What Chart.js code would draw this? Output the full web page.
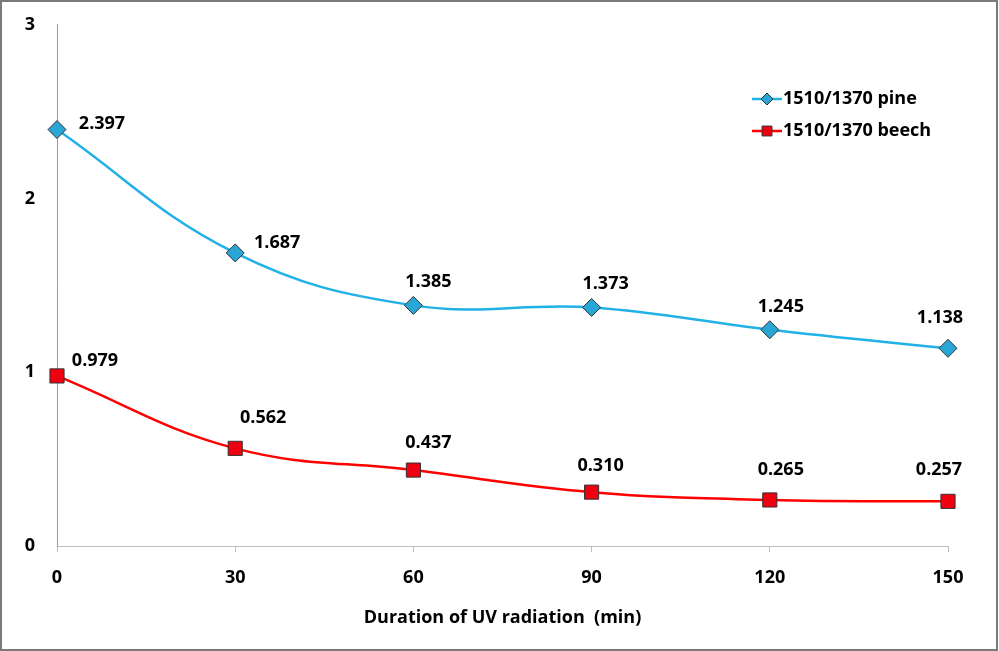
<!DOCTYPE html>
<html lang="en">
<head>
    <meta charset="UTF-8">
    <title>1510/1370 ratio vs UV radiation</title>
    <script src="https://cdn.jsdelivr.net/npm/chart.js"></script>
    <style>
        html, body { margin: 0; padding: 0; background: #fff; }
        .chart-box { position: relative; width: 999px; height: 651px; }
    </style>
</head>
<body>
    <div class="chart-box">
        <canvas id="uvChart"></canvas>
    </div>

    <script>
        // data
        const minutes = [0, 30, 60, 90, 120, 150];
        const pineRatio = [2.397, 1.687, 1.385, 1.373, 1.245, 1.138];
        const beechRatio = [0.979, 0.562, 0.437, 0.310, 0.265, 0.257];
        const yTicks = [0, 1, 2, 3];
        const seriesNames = ['1510/1370 pine', '1510/1370 beech'];

        // where each value label sits relative to its point (px)
        const pineLabelShift = [[45, -6], [42, -10], [15, -24], [14, -24], [11, -23], [-8, -30]];
        const beechLabelShift = [[38, -15], [28, -30], [15, -27], [9, -26], [11, -30], [-9, -31]];

        const FONT = "'Open Sans', 'Liberation Sans', sans-serif";
        const FSIZE = 18;
        const pineLine = '#21b1e6';
        const beechLine = '#ff0000';

        const frame = {
            id: 'frame',
            beforeDraw(chart) {
                const c = chart.ctx;
                c.save();
                c.fillStyle = '#fff';
                c.fillRect(0, 0, chart.width, chart.height);
                c.strokeStyle = '#7a7a7a';
                c.lineWidth = 2;
                c.strokeRect(1, 1, chart.width - 3, chart.height - 2);
                c.restore();
            }
        };

        const valueLabels = {
            id: 'valueLabels',
            afterDatasetsDraw(chart) {
                const c = chart.ctx;
                const shifts = [pineLabelShift, beechLabelShift];
                c.save();
                c.font = `bold ${FSIZE}px ${FONT}`;
                c.fillStyle = '#000';
                c.textAlign = 'center';
                c.textBaseline = 'middle';
                chart.data.datasets.forEach((ds, i) => {
                    chart.getDatasetMeta(i).data.forEach((pt, j) => {
                        const [dx, dy] = shifts[i][j];
                        c.fillText(ds.data[j].y.toFixed(3), pt.x + dx, pt.y + dy);
                    });
                });
                c.restore();
            }
        };

        const sideLegend = {
            id: 'sideLegend',
            afterDraw(chart) {
                const c = chart.ctx;
                const rows = [
                    { y: 99, color: pineLine, fill: '#2aa6d6', shape: 'rectRot' },
                    { y: 131, color: beechLine, fill: '#ee0010', shape: 'rect' }
                ];
                c.save();
                rows.forEach((r, i) => {
                    c.strokeStyle = r.color;
                    c.lineWidth = 2.5;
                    c.beginPath();
                    c.moveTo(752, r.y);
                    c.lineTo(782, r.y);
                    c.stroke();
                    c.fillStyle = r.fill;
                    c.strokeStyle = '#333';
                    c.lineWidth = 1;
                    Chart.helpers.drawPoint(c, { pointStyle: r.shape, radius: r.shape === 'rect' ? 7 : 6, borderWidth: 1 }, 767, r.y);
                    c.fillStyle = '#000';
                    c.font = `bold ${FSIZE}px ${FONT}`;
                    c.textBaseline = 'middle';
                    c.textAlign = 'left';
                    c.fillText(seriesNames[i], 783, r.y);
                });
                c.restore();
            }
        };

        const ctx = document.getElementById('uvChart').getContext('2d');
        new Chart(ctx, {
            type: 'line',
            data: {
                datasets: [
                    {
                        label: seriesNames[0],
                        data: minutes.map((m, i) => ({ x: m, y: pineRatio[i] })),
                        borderColor: pineLine,
                        borderWidth: 2.5,
                        tension: 0.4,
                        clip: false,
                        pointStyle: 'rectRot',
                        pointRadius: 9,
                        pointBackgroundColor: '#2aa6d6',
                        pointBorderColor: '#333',
                        pointBorderWidth: 1
                    },
                    {
                        label: seriesNames[1],
                        data: minutes.map((m, i) => ({ x: m, y: beechRatio[i] })),
                        borderColor: beechLine,
                        borderWidth: 2.5,
                        tension: 0.4,
                        clip: false,
                        pointStyle: 'rect',
                        pointRadius: 10,
                        pointBackgroundColor: '#ee0010',
                        pointBorderColor: '#333',
                        pointBorderWidth: 1
                    }
                ]
            },
            options: {
                responsive: true,
                maintainAspectRatio: false,
                animation: false,
                layout: { padding: { top: 24, right: 51, left: 0, bottom: 0 } },
                plugins: {
                    legend: { display: false },
                    tooltip: { enabled: false }
                },
                scales: {
                    x: {
                        type: 'linear',
                        min: 0,
                        max: 150,
                        afterBuildTicks: s => { s.ticks = minutes.map(v => ({ value: v })); },
                        grid: { drawOnChartArea: false, tickLength: 6, color: '#bdbdbd' },
                        border: { color: '#bdbdbd', width: 1 },
                        ticks: { color: '#000', font: { family: FONT, size: FSIZE, weight: 'bold' }, padding: 15 },
                        title: {
                            display: true,
                            text: 'Duration of UV radiation  (min)',
                            color: '#000',
                            font: { family: FONT, size: FSIZE, weight: 'bold' },
                            padding: { top: 0, bottom: 22 }
                        },
                        afterFit: s => { s.height = 105; }
                    },
                    y: {
                        min: 0,
                        max: 3,
                        afterBuildTicks: s => { s.ticks = yTicks.map(v => ({ value: v })); },
                        grid: { display: false },
                        border: { color: '#999', width: 1 },
                        ticks: { color: '#000', font: { family: FONT, size: FSIZE, weight: 'bold' }, padding: 14 },
                        afterFit: s => { s.width = 57; }
                    }
                }
            },
            plugins: [frame, valueLabels, sideLegend]
        });
    </script>
</body>
</html>
